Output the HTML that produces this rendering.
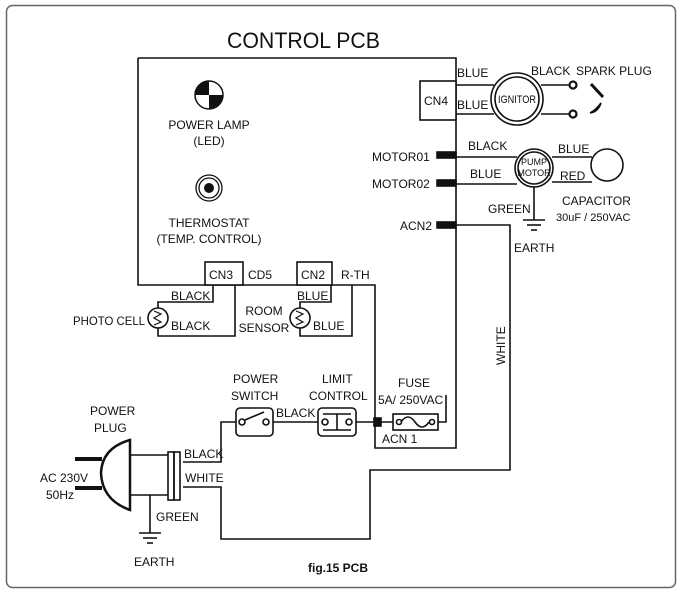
<!DOCTYPE html>
<html><head><style>
body{margin:0;background:#fff}
svg{display:block}
text{font-family:"Liberation Sans",sans-serif;fill:#111}
</style></head><body>
<svg width="682" height="593" viewBox="0 0 682 593" xmlns="http://www.w3.org/2000/svg">
<rect x="6.5" y="5.5" width="669" height="582" rx="6" fill="#fff" stroke="#666" stroke-width="1.5"/>
<text x="227" y="48" font-size="22" textLength="153" lengthAdjust="spacingAndGlyphs">CONTROL  PCB</text>
<g fill="none" stroke="#111" stroke-width="1.6">
<polyline points="138,58 456,58 456,448 375,448 375,285 138,285 138,58"/>
<rect x="205" y="262" width="38" height="23" fill="#fff"/>
<rect x="297" y="262" width="35" height="23" fill="#fff"/>
<polyline points="213,285 213,302 158,302 158,308"/>
<polyline points="158,328 158,336 235,336 235,285"/>
<circle cx="158" cy="318" r="10"/>
<polyline points="154,311 161,314 154,318 161,322 154,325" stroke-width="1.2"/>
<polyline points="331,285 331,302 300,302 300,308"/>
<polyline points="300,328 300,336 352,336 352,285"/>
<circle cx="300" cy="318" r="10"/>
<polyline points="296,311 303,314 296,318 303,322 296,325" stroke-width="1.2"/>
<rect x="420" y="81" width="36" height="39" fill="#fff"/>
<line x1="456" y1="85" x2="494" y2="85"/>
<line x1="456" y1="114" x2="494" y2="114"/>
<circle cx="517" cy="99" r="26"/>
<circle cx="517" cy="99" r="22"/>
<line x1="541" y1="85" x2="569" y2="85"/>
<line x1="541" y1="114" x2="569" y2="114"/>
<circle cx="573" cy="85" r="3.5" stroke-width="2.2"/>
<circle cx="573" cy="114" r="3.5" stroke-width="2.2"/>
<line x1="591" y1="84" x2="603" y2="97" stroke-width="3"/>
<path d="M590,113 Q596,110 601,103 Q598,112 590,113"/>
<rect x="437" y="152" width="19" height="6" fill="#111"/>
<rect x="437" y="180" width="19" height="6" fill="#111"/>
<rect x="437" y="222" width="19" height="6" fill="#111"/>
<line x1="456" y1="157" x2="517" y2="157"/>
<line x1="456" y1="184" x2="517" y2="184"/>
<circle cx="534" cy="168" r="19"/>
<circle cx="534" cy="168" r="16"/>
<line x1="552" y1="157" x2="592" y2="157"/>
<line x1="552" y1="182" x2="592" y2="182"/>
<circle cx="607" cy="165" r="16"/>
<line x1="534" y1="187" x2="534" y2="220"/>
<line x1="523" y1="220" x2="545" y2="220"/>
<line x1="527" y1="225" x2="541" y2="225"/>
<line x1="531" y1="230" x2="537" y2="230"/>
<polyline points="456,225 510,225 510,470 370,470 370,539 221,539 221,487 183,487"/>
<polyline points="183,462 221,462 221,422 236,422"/>
<rect x="236" y="408" width="37" height="28" rx="4"/>
<circle cx="242" cy="422" r="3"/><circle cx="266" cy="422" r="3"/>
<line x1="245" y1="420" x2="264" y2="412"/>
<line x1="273" y1="422" x2="318" y2="422"/>
<rect x="318" y="408" width="38" height="28" rx="4"/>
<circle cx="325" cy="422" r="3"/><circle cx="349" cy="422" r="3"/>
<line x1="323" y1="414" x2="351" y2="414"/>
<line x1="337" y1="414" x2="337" y2="430"/>
<line x1="323" y1="430" x2="351" y2="430"/>
<line x1="356" y1="422" x2="393" y2="422"/>
<rect x="374" y="418" width="7" height="8" fill="#111"/>
<rect x="393" y="414" width="45" height="16"/>
<circle cx="399" cy="422" r="2.5"/><circle cx="432" cy="422" r="2.5"/>
<path d="M401,422 Q408,412 415,422 T429,422"/>
<polyline points="438,422 446,422 446,395"/>
<line x1="75" y1="459" x2="102" y2="459" stroke-width="4"/>
<line x1="75" y1="488" x2="102" y2="488" stroke-width="4"/>
<path d="M130,440 Q102,448 101,473 Q102,500 130,510 Z" stroke-width="2.5"/>
<line x1="130" y1="455" x2="168" y2="455"/>
<line x1="130" y1="495" x2="168" y2="495"/>
<rect x="168" y="452" width="6" height="48"/>
<rect x="174" y="452" width="6" height="48"/>
<line x1="150" y1="495" x2="150" y2="533"/>
<line x1="139" y1="533" x2="161" y2="533"/>
<line x1="143" y1="538" x2="157" y2="538"/>
<line x1="147" y1="543" x2="153" y2="543"/>
</g>
<g fill="#111" stroke="none">
<circle cx="209" cy="95" r="14"/>
<path d="M209,81 A14,14 0 0 1 223,95 L209,95 Z" fill="#fff"/>
<path d="M209,95 L195,95 A14,14 0 0 0 209,109 Z" fill="#fff"/>
</g>
<circle cx="209" cy="95" r="14" fill="none" stroke="#111" stroke-width="1.5"/>
<circle cx="209" cy="188" r="13" fill="none" stroke="#111" stroke-width="1.3"/>
<circle cx="209" cy="188" r="10" fill="none" stroke="#111" stroke-width="1.3"/>
<circle cx="209" cy="188" r="5" fill="#111"/>
<g font-size="12">
<text x="209" y="129" text-anchor="middle">POWER LAMP</text>
<text x="209" y="145" text-anchor="middle">(LED)</text>
<text x="209" y="227" text-anchor="middle">THERMOSTAT</text>
<text x="209" y="243" text-anchor="middle">(TEMP. CONTROL)</text>
<text x="209" y="279">CN3</text>
<text x="248" y="279">CD5</text>
<text x="301" y="279">CN2</text>
<text x="341" y="279">R-TH</text>
<text x="171" y="300">BLACK</text>
<text x="171" y="330">BLACK</text>
<text x="73" y="325" textLength="72" lengthAdjust="spacingAndGlyphs">PHOTO CELL</text>
<text x="264" y="315" text-anchor="middle">ROOM</text>
<text x="264" y="332" text-anchor="middle">SENSOR</text>
<text x="297" y="300">BLUE</text>
<text x="313" y="330">BLUE</text>
<text x="424" y="105">CN4</text>
<text x="457" y="77">BLUE</text>
<text x="457" y="109">BLUE</text>
<text x="517" y="103" text-anchor="middle" font-size="11" textLength="38" lengthAdjust="spacingAndGlyphs">IGNITOR</text>
<text x="531" y="75">BLACK</text>
<text x="576" y="75">SPARK PLUG</text>
<text x="372" y="161">MOTOR01</text>
<text x="372" y="188">MOTOR02</text>
<text x="400" y="230">ACN2</text>
<text x="468" y="150">BLACK</text>
<text x="470" y="178">BLUE</text>
<text x="534" y="165" text-anchor="middle" font-size="9">PUMP</text>
<text x="534" y="176" text-anchor="middle" font-size="9">MOTOR</text>
<text x="558" y="153">BLUE</text>
<text x="560" y="180">RED</text>
<text x="488" y="213">GREEN</text>
<text x="514" y="252">EARTH</text>
<text x="562" y="205">CAPACITOR</text>
<text x="556" y="221" font-size="11">30uF / 250VAC</text>
<text x="233" y="383">POWER</text>
<text x="231" y="400">SWITCH</text>
<text x="322" y="383">LIMIT</text>
<text x="309" y="400">CONTROL</text>
<text x="276" y="417">BLACK</text>
<text x="398" y="387">FUSE</text>
<text x="378" y="404">5A/ 250VAC</text>
<text x="382" y="443">ACN 1</text>
<text x="90" y="415">POWER</text>
<text x="94" y="432">PLUG</text>
<text x="40" y="482">AC 230V</text>
<text x="46" y="499">50Hz</text>
<text x="184" y="458">BLACK</text>
<text x="185" y="482">WHITE</text>
<text x="156" y="521">GREEN</text>
<text x="134" y="566">EARTH</text>
<text x="505" y="365" transform="rotate(-90 505 365)">WHITE</text>
</g>
<text x="308" y="572" font-size="12" font-weight="bold">fig.15 PCB</text>
</svg>
</body></html>
